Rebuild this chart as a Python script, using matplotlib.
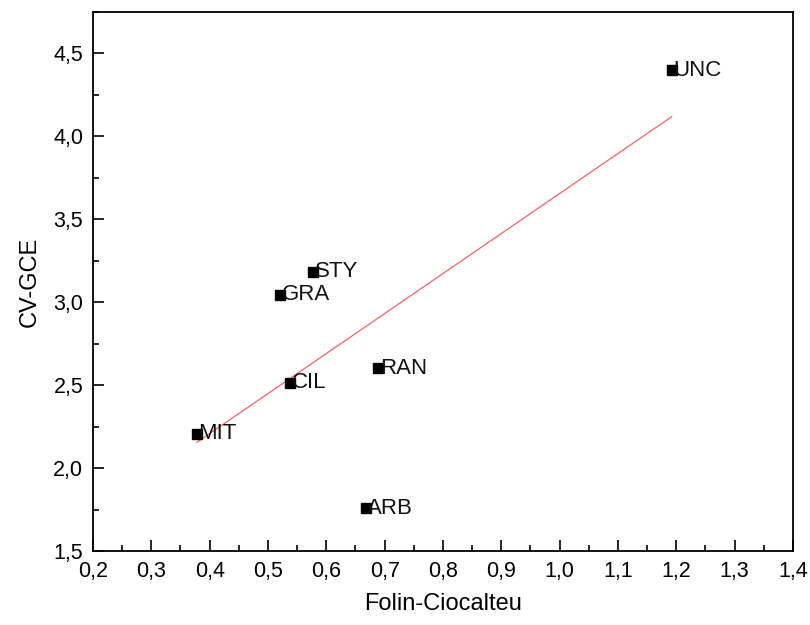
import numpy as np
import matplotlib
matplotlib.use('Agg')
import matplotlib.pyplot as plt
from matplotlib.ticker import MultipleLocator, FuncFormatter

plt.rcParams['font.family'] = ['Liberation Sans', 'DejaVu Sans']

# data
labels = ['MIT', 'GRA', 'CIL', 'STY', 'ARB', 'RAN', 'UNC']
folin = [0.378, 0.521, 0.538, 0.578, 0.668, 0.689, 1.192]
cv_gce = [2.207, 3.044, 2.516, 3.184, 1.759, 2.602, 4.40]

fig = plt.figure(figsize=(8.1, 6.25), dpi=100)
ax = fig.add_axes([0.1148, 0.1184, 0.8642, 0.8624])

ax.plot(folin, cv_gce, 's', color='black', markersize=7.5, zorder=3)
for lab, x, y in zip(labels, folin, cv_gce):
    ax.annotate(lab, (x, y), xytext=(1, 0), textcoords='offset points',
                ha='left', va='center', fontsize=16, color='#111111', zorder=4)

# linear fit
k, b = np.polyfit(folin, cv_gce, 1)
xf = np.array([min(folin), max(folin)])
ax.plot(xf, k * xf + b, color='#ff6060', linewidth=0.9, zorder=2)

ax.set_xlim(0.2, 1.4)
ax.set_ylim(1.5, 4.75)
ax.xaxis.set_major_locator(MultipleLocator(0.1))
ax.xaxis.set_minor_locator(MultipleLocator(0.05))
ax.yaxis.set_major_locator(MultipleLocator(0.5))
ax.yaxis.set_minor_locator(MultipleLocator(0.25))
ax.xaxis.set_major_formatter(FuncFormatter(lambda v, p: f'{v:.1f}'.replace('.', ',')))
ax.yaxis.set_major_formatter(FuncFormatter(lambda v, p: f'{v:.1f}'.replace('.', ',')))
ax.tick_params(which='both', direction='in', top=False, right=False, labelsize=15.5, width=1.2)
ax.tick_params(which='major', length=8, pad=7)
ax.tick_params(which='minor', length=4)
for s in ax.spines.values():
    s.set_linewidth(1.3)

ax.set_xlabel('Folin-Ciocalteu', fontsize=17, labelpad=8)
ax.set_ylabel('CV-GCE', fontsize=17, labelpad=9)

plt.savefig('out.png')
